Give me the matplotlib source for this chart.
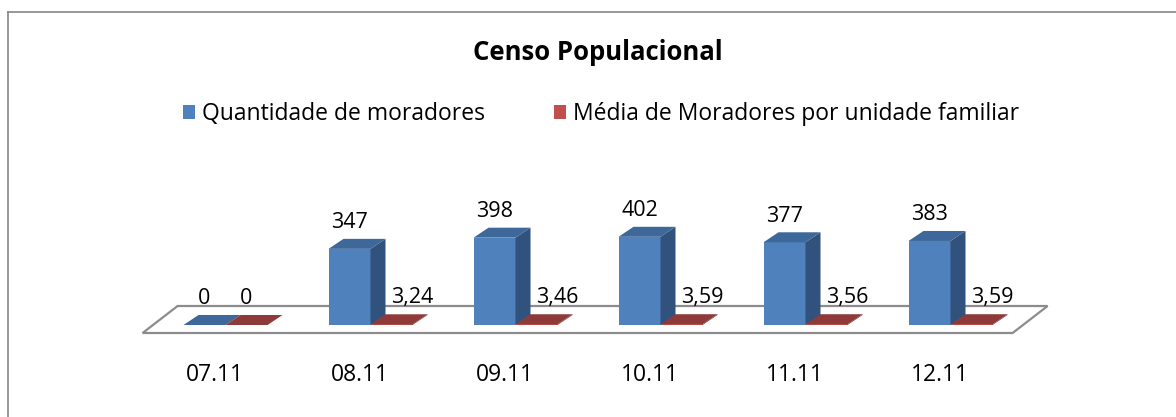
import matplotlib
matplotlib.use("Agg")
import matplotlib.pyplot as plt
from matplotlib.patches import Polygon, Patch
from matplotlib.lines import Line2D

categories = ["07.11", "08.11", "09.11", "10.11", "11.11", "12.11"]
moradores = [0, 347, 398, 402, 377, 383]
media = [0, 3.24, 3.46, 3.59, 3.56, 3.59]
moradores_labels = ["0", "347", "398", "402", "377", "383"]
media_labels = ["0", "3,24", "3,46", "3,59", "3,56", "3,59"]
series_names = ["Quantidade de moradores", "Média de Moradores por unidade familiar"]
title = "Censo Populacional"

FONT = "Open Sans"
W, H, DPI = 1176, 417, 100
fig = plt.figure(figsize=(W / DPI, H / DPI), dpi=DPI)
ax = fig.add_axes([0, 0, 1, 1])
ax.set_xlim(-225.5 / 145, (W - 225.5) / 145)
ax.set_ylim(-92 / 0.2194, (H - 92) / 0.2194)
ax.axis("off")

fig.canvas.draw()
t0 = ax.transData.transform((0, 0))
t1 = ax.transData.transform((1, 1))
sx, sy = t1[0] - t0[0], t1[1] - t0[1]  # pixels per data unit


def off(x, y, dxp, dyp):
    return (x + dxp / sx, y + dyp / sy)


# colours
blue_front, blue_top, blue_side = "#4F81BD", "#3D6899", "#30527C"
red_front, red_top, red_side = "#C0504D", "#8E3A38", "#7A2F2E"

# floor
n = len(categories)
fx0, fx1 = -0.5, n - 0.5
floor = [off(fx0, 0, -10.4, -8), off(fx1, 0, -10.4, -8),
         off(fx1, 0, 24.6, 19), off(fx0, 0, 24.6, 19)]
ax.add_patch(Polygon(floor, closed=True, facecolor="white",
                     edgecolor="#8C8C8C", lw=1.6, zorder=1))

bw = 42 / sx
ddx, ddy = 15, 10
z = 2
for i in range(n):
    for val, dx, fc, tc, scol in [(moradores[i], -bw / 2, blue_front, blue_top, blue_side),
                                  (media[i], bw / 2, red_front, red_top, red_side)]:
        xc = i + dx
        xl, xr = xc - bw / 2, xc + bw / 2
        ax.bar([xc], [val], width=bw, color=fc, zorder=z, linewidth=0)
        top = [(xl, val), (xr, val), off(xr, val, ddx, ddy), off(xl, val, ddx, ddy)]
        side = [(xr, 0), (xr, val), off(xr, val, ddx, ddy), off(xr, 0, ddx, ddy)]
        ax.add_patch(Polygon(side, closed=True, facecolor=scol, lw=0, zorder=z))
        ax.add_patch(Polygon(top, closed=True, facecolor=tc, lw=0, zorder=z))
        z += 1

# value labels
for i in range(n):
    xb = i - bw / 2
    ax.annotate(moradores_labels[i], (xb, moradores[i]), xytext=(0, 26),
                textcoords="offset pixels", ha="center", va="center",
                fontsize=15.5, family=FONT, color="black", zorder=50)
    xr = i + bw / 2
    shift = 0 if media[i] == 0 else 21
    ax.annotate(media_labels[i], (xr, media[i]), xytext=(shift, 27),
                textcoords="offset pixels", ha="center", va="center",
                fontsize=15.5, family=FONT, color="black", zorder=50)

# category labels
for i, c in enumerate(categories):
    ax.annotate(c, (i, 0), xytext=(-11, -50), textcoords="offset pixels",
                ha="center", va="center", fontsize=16.5, family=FONT, color="black")

# title
fig.text(598 / W, 1 - 52 / H, title, ha="center", va="center",
         fontsize=18.5, fontweight="bold", family=FONT)

# legend
handles = [Patch(facecolor=blue_front, edgecolor="none"),
           Patch(facecolor=red_front, edgecolor="none")]
fig.legend(handles, series_names, loc="center", bbox_to_anchor=(601 / W, 1 - 114 / H),
           ncol=2, frameon=False, prop={"family": FONT, "size": 16.5},
           handlelength=0.55, handleheight=0.55, handletextpad=0.3,
           columnspacing=3.0)

# chart border (left and top)
fig.add_artist(Line2D([8 / W, 8 / W], [0, 1 - 12 / H], color="#868686", lw=1.2))
fig.add_artist(Line2D([8 / W, 1], [1 - 12 / H, 1 - 12 / H], color="#868686", lw=1.2))

fig.savefig("out.png", dpi=DPI)
